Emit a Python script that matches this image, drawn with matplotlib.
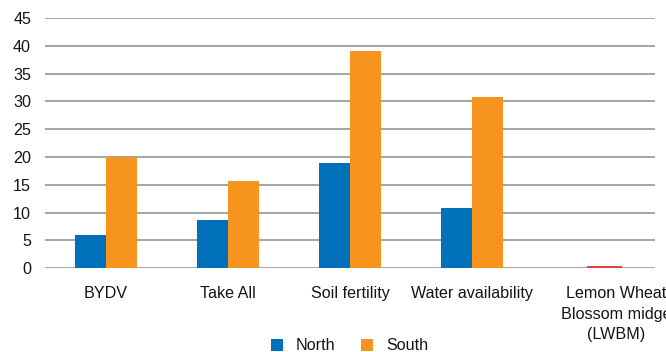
import matplotlib
matplotlib.use("Agg")
import matplotlib.pyplot as plt
import matplotlib.transforms as mtransforms
import numpy as np

plt.rcParams['font.family'] = ['Liberation Sans', 'DejaVu Sans']

categories = ["BYDV", "Take All", "Soil fertility", "Water availability",
              "Lemon Wheat\nBlossom midge\n(LWBM)"]
north = [6, 8.7, 19, 10.8, 0]
south = [20, 15.7, 39, 30.8, 0]
lwbm_marker = 0.35
y_ticks = [0, 5, 10, 15, 20, 25, 30, 35, 40, 45]

blue = "#0070ba"
orange = "#f7941d"
text_col = "#141414"
fs = 11.6

fig = plt.figure(figsize=(6.66, 3.52), dpi=100)
ax = fig.add_axes([45 / 666, 83.7 / 352, 610 / 666, 250.3 / 352])

x = np.arange(len(categories))
w = 0.253
ax.bar(x - w / 2, north, width=w, color=blue, label="North", zorder=3)
ax.bar(x + w / 2, south, width=w, color=orange, label="South", zorder=3)
# small red bar on the LWBM baseline
ax.bar(x[-1] + 0.086, lwbm_marker, width=0.287, color="#e0443e", zorder=4)

ax.set_xlim(-0.5, len(categories) - 0.5)
ax.set_ylim(0, 45)
ax.set_yticks(y_ticks)
ax.yaxis.grid(True, color="#8c8c8c", linewidth=1.1, zorder=0)
ax.set_axisbelow(True)
for s in ax.spines.values():
    s.set_visible(False)
ax.axhline(0, color="#a8a8a8", linewidth=1.4, zorder=2)

ax.tick_params(axis="y", length=0, pad=10, labelsize=fs, labelcolor=text_col)
ax.tick_params(axis="x", length=0, pad=13, labelsize=fs, labelcolor=text_col)
ax.set_xticks(x)
ax.set_xticklabels(categories, linespacing=1.45)

# the long wrapped label sits a little right of its category
last = ax.get_xticklabels()[-1]
last.set_transform(last.get_transform() +
                   mtransforms.ScaledTranslation(22 / 100, 0, fig.dpi_scale_trans))

fig.legend(loc="center", bbox_to_anchor=(0.525, 6 / 352), ncol=2, frameon=False,
           fontsize=fs, handlelength=0.75, handleheight=0.75, columnspacing=1.6,
           handletextpad=0.8, labelcolor=text_col, borderpad=0, borderaxespad=0)

fig.savefig("out.png", dpi=100)
